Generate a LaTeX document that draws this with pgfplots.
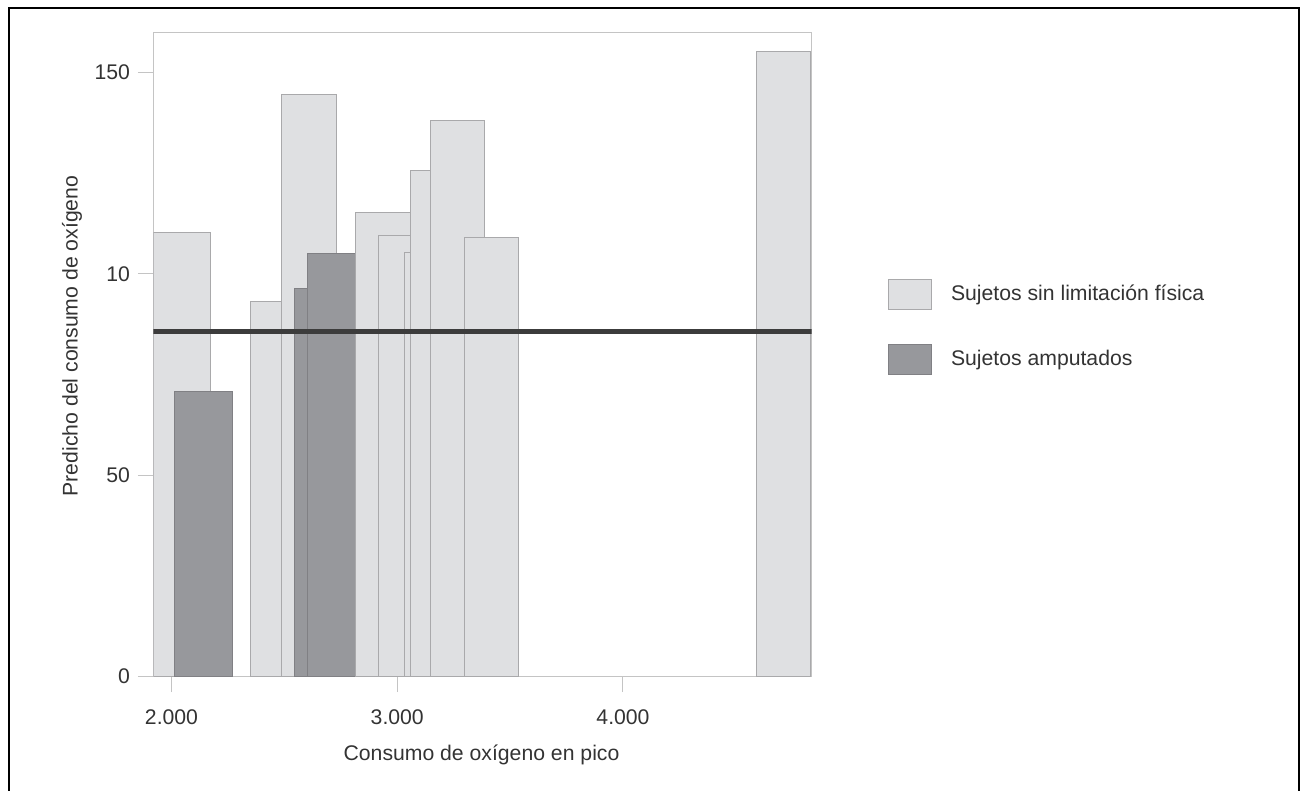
\documentclass[border=0pt]{standalone}
\usepackage{pgfplots}
\pgfplotsset{compat=1.18}
\usepackage{fontspec}
\setmainfont{Liberation Sans}
\definecolor{lightfill}{HTML}{DFE0E2}
\definecolor{lightedge}{HTML}{A9A9AB}
\definecolor{darkfill}{HTML}{97989C}
\definecolor{darkedge}{HTML}{808084}
\definecolor{refline}{HTML}{3C3C3C}
\definecolor{axisgray}{HTML}{C4C4C4}
\definecolor{txt}{HTML}{333333}
\newcommand{\chfont}{\fontsize{10.6}{12.7}\selectfont}
\begin{document}
\begin{tikzpicture}
\useasboundingbox (0,0) rectangle (650.5pt,395.5pt);
\draw[black, line width=0.7pt] (4.5pt,-2pt) -- (4.5pt,391.5pt) -- (649.5pt,391.5pt) -- (649.5pt,-2pt);
\begin{axis}[
  at={(76.75pt,57.15pt)}, anchor=south west,
  width=329pt, height=322.2pt, scale only axis,
  xmin=1920.3, xmax=4835, ymin=0, ymax=160,
  axis line style={axisgray, line width=0.5pt},
  tick style={axisgray, line width=0.5pt},
  tick align=outside, major tick length=7.75pt,
  xtick={2000,3000,4000}, xticklabels={2.000,3.000,4.000},
  ytick={0,50,100,150}, yticklabels={0,50,10,150},
  xtick pos=left, ytick pos=left,
  every tick label/.append style={font=\chfont, text=txt},
  yticklabel style={xshift=-0.5pt},
  xticklabel style={yshift=-5pt},
  label style={font=\chfont, text=txt},
  xlabel={Consumo de oxígeno en pico},
  ylabel={Predicho del consumo de oxígeno},
  xlabel style={at={(axis description cs:0.4985,-0.1215)}, anchor=center},
  ylabel style={at={(axis description cs:-0.1239,0.5287)}, anchor=center},
  legend image code/.code={\draw[#1] (0pt,-7.5pt) rectangle (21.5pt,7.5pt);},
  legend style={at={(axis description cs:1.1158,0.6172)}, anchor=north west,
    draw=none, fill=none, inner sep=0pt, outer sep=0pt,
    font=\chfont, text=txt, row sep=17pt, column sep=9.65pt,
    nodes={inner sep=0pt}},
  legend cell align=left,
]
\addplot[fill=lightfill, draw=lightedge, line width=0.5pt] coordinates {(1920.3,0) (1920.3,110.2) (2175,110.2) (2175,0)} \closedcycle;
\addlegendentry{Sujetos sin limitación física}
\addplot[fill=darkfill, draw=darkedge, line width=0.5pt] coordinates {(2015.5,0) (2015.5,70.7) (2271,70.7) (2271,0)} \closedcycle;
\addlegendentry{Sujetos amputados}
\addplot[forget plot, fill=lightfill, draw=lightedge, line width=0.5pt] coordinates {(2349,0) (2349,93.1) (2592,93.1) (2592,0)} \closedcycle;
\addplot[forget plot, fill=lightfill, draw=lightedge, line width=0.5pt] coordinates {(2488,0) (2488,144.6) (2732,144.6) (2732,0)} \closedcycle;
\addplot[forget plot, fill=darkfill, draw=darkedge, line width=0.5pt] coordinates {(2546,0) (2546,96.5) (2759,96.5) (2759,0)} \closedcycle;
\addplot[forget plot, fill=darkfill, draw=darkedge, line width=0.5pt] coordinates {(2601.5,0) (2601.5,105.1) (2816,105.1) (2816,0)} \closedcycle;
\addplot[forget plot, fill=lightfill, draw=lightedge, line width=0.5pt] coordinates {(2816,0) (2816,115.3) (3058,115.3) (3058,0)} \closedcycle;
\addplot[forget plot, fill=lightfill, draw=lightedge, line width=0.5pt] coordinates {(2915,0) (2915,109.6) (3158,109.6) (3158,0)} \closedcycle;
\addplot[forget plot, fill=lightfill, draw=lightedge, line width=0.5pt] coordinates {(3031,0) (3031,105.2) (3270,105.2) (3270,0)} \closedcycle;
\addplot[forget plot, fill=lightfill, draw=lightedge, line width=0.5pt] coordinates {(3058,0) (3058,125.6) (3300,125.6) (3300,0)} \closedcycle;
\addplot[forget plot, fill=lightfill, draw=lightedge, line width=0.5pt] coordinates {(3148,0) (3148,138.1) (3387,138.1) (3387,0)} \closedcycle;
\addplot[forget plot, fill=lightfill, draw=lightedge, line width=0.5pt] coordinates {(3297,0) (3297,109.0) (3536,109.0) (3536,0)} \closedcycle;
\addplot[forget plot, fill=lightfill, draw=lightedge, line width=0.5pt] coordinates {(4590,0) (4590,155.3) (4829,155.3) (4829,0)} \closedcycle;
\addplot[forget plot, refline, line width=2.5pt] coordinates {(1920.3,85.6) (4835,85.6)};
\end{axis}
\end{tikzpicture}
\end{document}
